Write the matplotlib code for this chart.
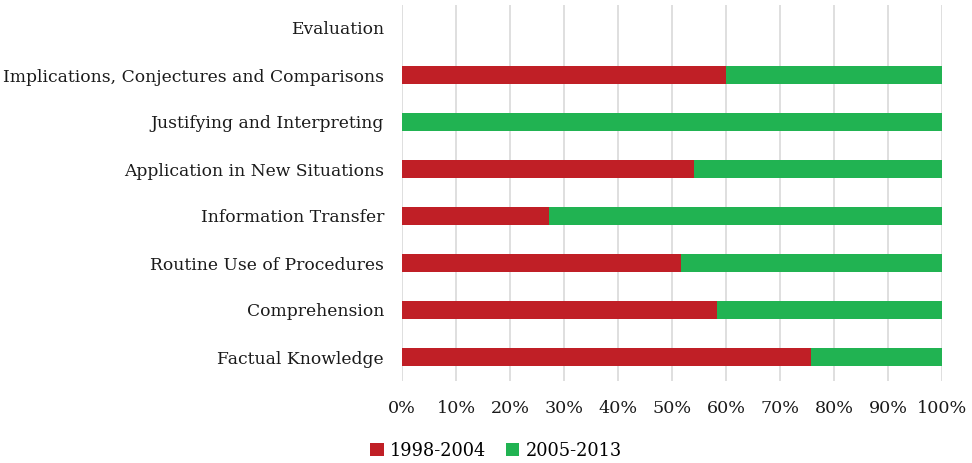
import matplotlib
matplotlib.use("Agg")
import matplotlib.pyplot as plt
import numpy as np
from matplotlib.ticker import FuncFormatter

categories = ["Factual Knowledge", "Comprehension", "Routine Use of Procedures",
              "Information Transfer", "Application in New Situations",
              "Justifying and Interpreting",
              "Implications, Conjectures and Comparisons", "Evaluation"]
s1998_2004 = [75.7, 58.3, 51.7, 27.3, 54.1, 0.0, 60.0, 0.0]
s2005_2013 = [24.3, 41.7, 48.3, 72.7, 45.9, 100.0, 40.0, 0.0]
series_names = ["1998-2004", "2005-2013"]
xticks = [0, 10, 20, 30, 40, 50, 60, 70, 80, 90, 100]

RED = "#C01F26"
GREEN = "#21B352"

plt.rcParams['font.family'] = ['DejaVu Serif']
fig = plt.figure(figsize=(9.72, 4.63), dpi=100)
ax = fig.add_axes([402/972, 1-380.5/463, 540/972, 376/463])

y = np.arange(len(categories))
a = np.array(s1998_2004)
b = np.array(s2005_2013)
ax.barh(y, a, height=0.4, color=RED, linewidth=0, label=series_names[0], zorder=3)
ax.barh(y, b, left=a, height=0.4, color=GREEN, linewidth=0, label=series_names[1], zorder=3)

ax.set_xlim(0, 100)
ax.set_ylim(-0.5, len(categories)-0.5)
ax.set_yticks(y)
ax.set_yticklabels(categories, fontsize=12.3, color="#1a1a1a")
ax.set_xticks(xticks)
ax.xaxis.set_major_formatter(FuncFormatter(lambda v, p: f"{int(v)}%"))
ax.tick_params(axis='x', labelsize=12.6, length=0, pad=14, colors="#1a1a1a")
ax.tick_params(axis='y', length=0, pad=13)
ax.grid(axis='x', color="#d9d9d9", linewidth=1.2, zorder=0)
for s in ax.spines.values():
    s.set_visible(False)

leg = fig.legend(loc="center", bbox_to_anchor=(496/972, 1-451/463), ncol=2, frameon=False,
                 fontsize=12.8, handlelength=0.75, handleheight=0.75, handletextpad=0.35, columnspacing=1.1)

fig.savefig("out.png", dpi=100)
